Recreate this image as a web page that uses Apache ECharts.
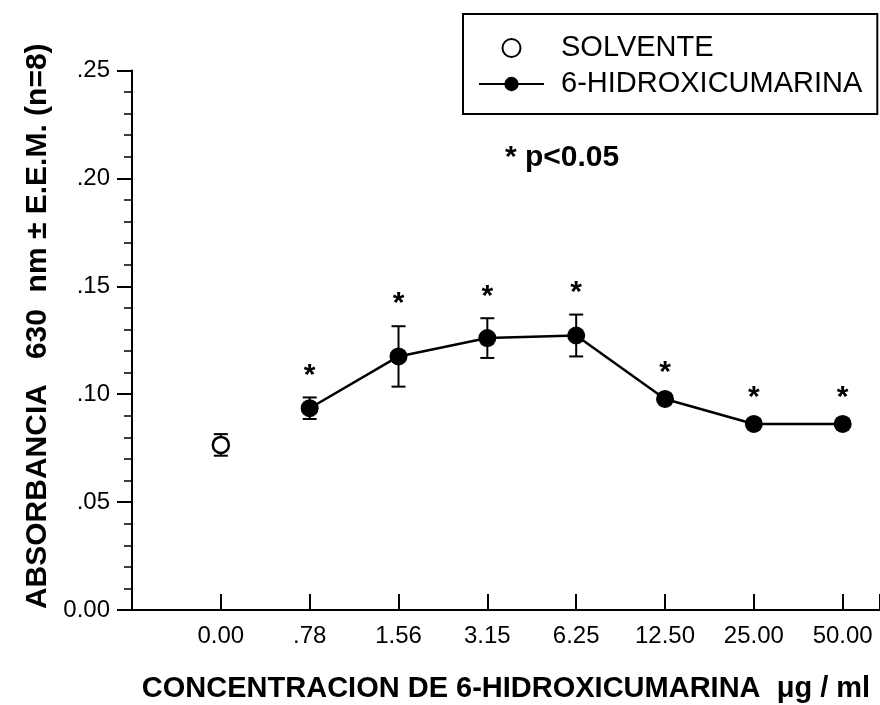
<!DOCTYPE html>
<html><head><meta charset="utf-8">
<script src="https://cdn.jsdelivr.net/npm/echarts@6/dist/echarts.min.js"></script>
<style>html,body{margin:0;padding:0;background:#fff}#c{width:880px;height:705px}</style>
</head><body><div id="c"></div>
<script>
const categories = ['0.00', '.78', '1.56', '3.15', '6.25', '12.50', '25.00', '50.00'];
const yTickLabels = ['0.00', '.05', '.10', '.15', '.20', '.25'];
const solventeMean = [0.0765];
const solventeErr = [0.005];
const hidroMean = [null, 0.0935, 0.1175, 0.126, 0.1272, 0.0978, 0.0862, 0.0862];
const hidroErr = [null, 0.005, 0.014, 0.0092, 0.0097, 0.002, 0.002, 0.002];
const significant = [false, true, true, true, true, true, true, true];

const FONT = '"Liberation Sans", Arial, sans-serif';

const solData = solventeMean.map((m, i) => [i, m]);
const solErrData = solventeMean.map((m, i) => [i, m, solventeErr[i], 0]);
const hidData = [];
const hidErrData = [];
hidroMean.forEach((m, i) => {
  if (m == null) return;
  hidData.push([i, m]);
  hidErrData.push([i, m, hidroErr[i], significant[i] ? 1 : 0]);
});

function errRender(params, api) {
  const x = api.value(0), m = api.value(1), e = api.value(2), s = api.value(3);
  const top = api.coord([x, m + e]);
  const bot = api.coord([x, m - e]);
  const hw = 7;
  const st = { stroke: '#000', lineWidth: 2 };
  const children = [
    { type: 'line', shape: { x1: top[0], y1: top[1], x2: bot[0], y2: bot[1] }, style: st },
    { type: 'line', shape: { x1: top[0] - hw, y1: top[1], x2: top[0] + hw, y2: top[1] }, style: st },
    { type: 'line', shape: { x1: bot[0] - hw, y1: bot[1], x2: bot[0] + hw, y2: bot[1] }, style: st }
  ];
  if (s) {
    children.push({
      type: 'text', x: top[0], y: top[1] - 28 + 6,
      style: { text: '*', font: 'bold 30px ' + FONT, fill: '#000', align: 'center', verticalAlign: 'middle' }
    });
  }
  return { type: 'group', children };
}

const chart = echarts.init(document.getElementById('c'), null, { renderer: 'canvas' });
chart.setOption({
  animation: false,
  backgroundColor: '#fff',
  grid: { left: 132, right: 0, top: 70.5, bottom: 95, containLabel: false, outerBoundsMode: 'none' },
  legend: {
    orient: 'vertical', left: 463, top: 14,
    data: ['SOLVENTE', '6-HIDROXICUMARINA'],
    itemWidth: 65, itemHeight: 18, itemGap: 6,
    padding: [19, 15, 15, 15],
    borderColor: '#000', borderWidth: 2, borderRadius: 0,
    selectedMode: false,
    textStyle: { fontSize: 29, fontFamily: FONT, color: '#000', lineHeight: 30, padding: [0, 0, 0, 12] }
  },
  graphic: [{
    type: 'text', left: 505, top: 143,
    style: { text: '* p<0.05', font: 'bold 30px ' + FONT, fill: '#000' }
  }],
  xAxis: {
    type: 'value', min: -1, max: 7.42, interval: 1,
    name: 'CONCENTRACION DE 6-HIDROXICUMARINA  μg / ml',
    nameLocation: 'middle', nameGap: 64,
    nameTextStyle: { fontFamily: FONT, fontWeight: 'bold', fontSize: 29, color: '#000' },
    axisLine: { lineStyle: { color: '#000', width: 2 } },
    axisTick: { inside: true, length: 16, lineStyle: { color: '#000', width: 2 } },
    splitLine: { show: false },
    axisLabel: {
      margin: 14, fontFamily: FONT, fontSize: 24, color: '#000',
      formatter: v => (v >= 0 && Number.isInteger(v) && v < categories.length) ? categories[v] : ''
    }
  },
  yAxis: {
    type: 'value', min: 0, max: 0.25, interval: 0.05,
    name: 'ABSORBANCIA   630  nm ± E.E.M. (n=8)',
    nameLocation: 'middle', nameGap: 72,
    nameTextStyle: { fontFamily: FONT, fontWeight: 'bold', fontSize: 30, color: '#000', padding: [0, 0, 0, 28] },
    axisLine: { onZero: false, lineStyle: { color: '#000', width: 2 } },
    axisTick: { inside: false, length: 15, lineStyle: { color: '#000', width: 2 } },
    minorTick: { show: true, splitNumber: 5, length: 8, lineStyle: { color: '#000', width: 1.5 } },
    splitLine: { show: false },
    axisLabel: {
      margin: 22, fontFamily: FONT, fontSize: 24, color: '#000',
      formatter: v => yTickLabels[Math.round(v / 0.05)]
    }
  },
  series: [
    { type: 'custom', name: 'errSol', data: solErrData, renderItem: errRender, z: 1, silent: true },
    { type: 'custom', name: 'errHid', data: hidErrData, renderItem: errRender, z: 1, silent: true },
    {
      type: 'scatter', name: 'SOLVENTE', data: solData, symbol: 'circle', symbolSize: 16, z: 3,
      itemStyle: { color: '#fff', borderColor: '#000', borderWidth: 2.5, opacity: 1 }
    },
    {
      type: 'line', name: '6-HIDROXICUMARINA', data: hidData, symbol: 'circle', symbolSize: 18, z: 3,
      showAllSymbol: true,
      itemStyle: { color: '#000' },
      lineStyle: { color: '#000', width: 2.5 }
    }
  ]
});
</script></body></html>
